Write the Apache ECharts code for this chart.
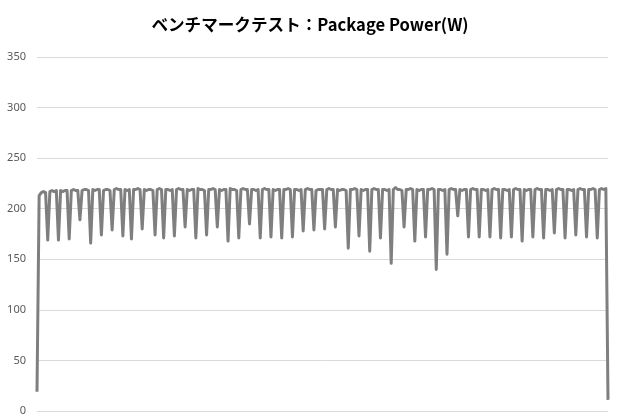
<!DOCTYPE html>
<html>
<head>
<meta charset="utf-8">
<script src="https://cdn.jsdelivr.net/npm/echarts@6/dist/echarts.min.js"></script>
<style>
html,body{margin:0;padding:0;background:#fff;}
#chart{width:620px;height:420px;}
</style>
</head>
<body>
<div id="chart"></div>
<script>
const titleText = 'ベンチマークテスト：Package Power(W)';
const yTicks = [0, 50, 100, 150, 200, 250, 300, 350];

// Package power samples (W)
const power = [
  19, 213,
  216,217,216, 169,
  217,218,217,218, 169,
  218,217,218,218, 170,
  218,219,218,218, 189,
  218,219,219,218, 166,
  219,218,219,219, 174,
  218,219,219,218, 179,
  219,220,219,219, 173,
  219,218,219, 170,
  219,219,220,219, 180,
  219,218,219,219,218, 174,
  219,220,219, 171,
  219,219,218,219, 173,
  219,220,219,219, 182,
  219,218,219,219, 171,
  220,219,219,218, 174,
  219,219,220,219, 182,
  219,218,219,219, 168,
  220,219,219,218, 171,
  219,220,219,219, 185,
  219,219,218,219, 171,
  219,220,219,219, 172,
  219,218,219,219, 171,
  219,219,220,219, 172,
  219,219,218,219, 178,
  219,220,219,219, 179,
  218,219,219,219, 180,
  219,220,219,219, 182,
  219,218,219,219,218, 161,
  219,219,220,219, 173,
  219,218,219,219, 158,
  219,220,219,219, 171,
  219,219,218,219, 146,
  219,221,219,219,218, 182,
  219,219,220,219, 168,
  219,218,219,219, 172,
  219,219,220,219, 140,
  219,219,218,219, 155,
  219,220,219,219, 193,
  219,218,219,219, 172,
  219,220,219,219, 172,
  219,219,218,219, 172,
  219,220,219,219, 171,
  219,219,218,219, 172,
  219,220,219,219, 168,
  219,218,219,219, 172,
  219,220,219,219, 171,
  219,219,218,219, 176,
  219,220,219,219, 171,
  219,219,218,219, 174,
  219,220,219,219, 172,
  219,219,220,219, 171,
  219,220,219,220, 11
];
const samples = power.map((_, i) => String(i + 1));

const chart = echarts.init(document.getElementById('chart'), null, {renderer: 'canvas'});
chart.setOption({
  animation: false,
  backgroundColor: '#ffffff',
  title: {
    text: titleText,
    left: 'center',
    top: 11,
    textStyle: {
      fontFamily: '"Noto Sans CJK JP", "Noto Sans", sans-serif',
      fontWeight: 'bold',
      fontSize: 16.6,
      color: '#000000'
    }
  },
  grid: {left: 37, right: 12, top: 57, bottom: 9, containLabel: false},
  xAxis: {
    type: 'category',
    data: samples,
    boundaryGap: false,
    axisLine: {show: false},
    axisTick: {show: false},
    axisLabel: {show: false},
    splitLine: {show: false}
  },
  yAxis: {
    type: 'value',
    min: yTicks[0],
    max: yTicks[yTicks.length - 1],
    interval: 50,
    axisLine: {show: false},
    axisTick: {show: false},
    axisLabel: {
      margin: 11,
      color: '#595959',
      fontSize: 11,
      fontFamily: '"Noto Sans", "DejaVu Sans", sans-serif'
    },
    splitLine: {lineStyle: {color: '#d9d9d9', width: 1}}
  },
  series: [{
    type: 'line',
    data: power,
    showSymbol: false,
    symbol: 'none',
    lineStyle: {color: '#7f7f7f', width: 3, join: 'round'},
    itemStyle: {color: '#7f7f7f'}
  }]
});
</script>
</body>
</html>
